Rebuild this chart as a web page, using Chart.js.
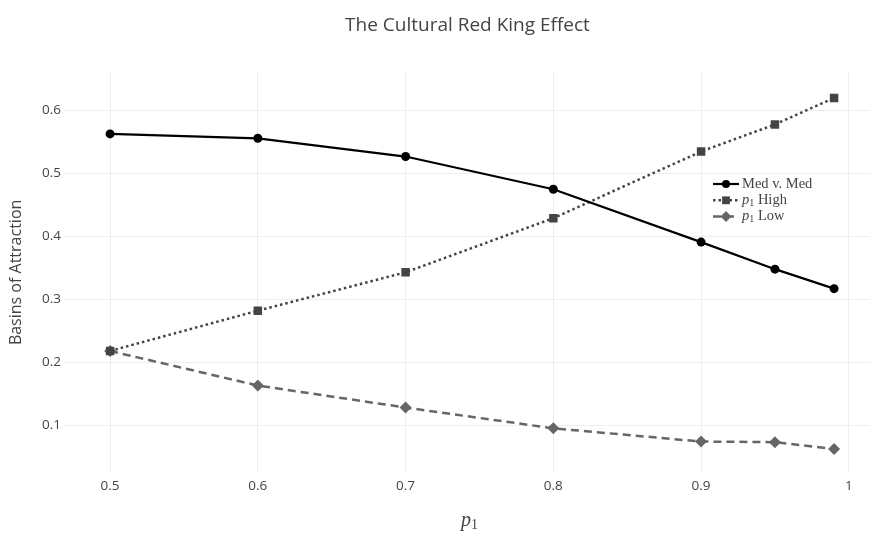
<!DOCTYPE html>
<html>
<head>
<meta charset="utf-8">
<script src="https://cdn.jsdelivr.net/npm/chart.js@4"></script>
<style>
  html, body { margin: 0; padding: 0; background: #fff; overflow: hidden; }
  /* a bit wider than the window: Chart.js keeps a small right margin for the last tick label */
  #wrap { width: 877px; height: 534px; }
</style>
</head>
<body>
<div id="wrap"><canvas id="chart"></canvas></div>
<script>
// data
const pValues = [0.5, 0.6, 0.7, 0.8, 0.9, 0.95, 0.99];
const medVMed = [0.563, 0.556, 0.527, 0.475, 0.391, 0.348, 0.317];
const p1High = [0.218, 0.282, 0.343, 0.429, 0.535, 0.578, 0.620];
const p1Low = [0.218, 0.163, 0.128, 0.095, 0.074, 0.073, 0.062];
const xTicks = [0.5, 0.6, 0.7, 0.8, 0.9, 1];
const yTicks = [0.1, 0.2, 0.3, 0.4, 0.5, 0.6];

const toPoints = (ys) => ys.map((y, i) => ({ x: pValues[i], y: y }));

// legend entries: label parts as [text, italic, subscript]
const legendLabels = [
  [['Med v. Med', false, false]],
  [['p', true, false], ['1', false, true], [' High', false, false]],
  [['p', true, false], ['1', false, true], [' Low', false, false]]
];

function drawParts(ctx, parts, x, y, size) {
  parts.forEach(([txt, it, sub]) => {
    const fs = sub ? Math.round(size * 0.72) : size;
    ctx.font = (it ? 'italic ' : '') + fs + 'px "Liberation Serif", serif';
    ctx.fillText(txt, x, sub ? y + size * 0.22 : y);
    x += ctx.measureText(txt).width;
  });
}

const extras = {
  id: 'extras',
  afterDraw(chart) {
    const ctx = chart.ctx;
    ctx.save();
    ctx.fillStyle = '#444';
    ctx.textBaseline = 'middle';
    ctx.textAlign = 'left';
    // x axis title p1
    drawParts(ctx, [['p', true, false], ['1', false, true]], 461, 521, 20);

    // legend
    chart.data.datasets.forEach((ds, i) => {
      const y = 184 + i * 16.3;
      ctx.save();
      ctx.strokeStyle = ds.borderColor;
      ctx.lineWidth = ds.borderWidth;
      ctx.setLineDash(ds.borderDash || []);
      ctx.beginPath();
      ctx.moveTo(713, y);
      ctx.lineTo(739, y);
      ctx.stroke();
      ctx.setLineDash([]);
      ctx.fillStyle = ds.pointBackgroundColor;
      ctx.strokeStyle = ds.pointBackgroundColor;
      Chart.helpers.drawPoint(ctx, {
        pointStyle: ds.pointStyle,
        radius: ds.pointRadius - 0.5,
        borderWidth: 0
      }, 726, y);
      ctx.restore();
      ctx.fillStyle = '#444';
      drawParts(ctx, legendLabels[i], 742, y, 14.5);
    });
    ctx.restore();
  }
};

new Chart(document.getElementById('chart'), {
  type: 'line',
  data: {
    datasets: [
      {
        label: 'Med v. Med',
        data: toPoints(medVMed),
        borderColor: '#000',
        backgroundColor: '#000',
        pointBackgroundColor: '#000',
        borderWidth: 2.2,
        pointStyle: 'circle',
        pointRadius: 4.5,
        pointBorderWidth: 0
      },
      {
        label: 'p1 High',
        data: toPoints(p1High),
        borderColor: '#444',
        backgroundColor: '#444',
        pointBackgroundColor: '#444',
        borderWidth: 2.5,
        borderDash: [2.5, 3],
        pointStyle: 'rect',
        pointRadius: 6,
        pointBorderWidth: 0
      },
      {
        label: 'p1 Low',
        data: toPoints(p1Low),
        borderColor: '#666',
        backgroundColor: '#666',
        pointBackgroundColor: '#666',
        borderWidth: 2.5,
        borderDash: [8, 5],
        pointStyle: 'rectRot',
        pointRadius: 6,
        pointBorderWidth: 0
      }
    ]
  },
  options: {
    responsive: true,
    maintainAspectRatio: false,
    animation: false,
    plugins: {
      legend: { display: false },
      tooltip: { enabled: false },
      title: {
        display: true,
        fullSize: false,
        text: 'The Cultural Red King Effect',
        color: '#444',
        font: { family: '"Open Sans", sans-serif', size: 19, weight: 'normal', lineHeight: 1.2 },
        padding: { top: 14, bottom: 35 }
      }
    },
    scales: {
      x: {
        type: 'linear',
        min: 0.4688,
        max: 1.015,
        afterBuildTicks: (s) => { s.ticks = xTicks.map(v => ({ value: v })); },
        afterFit: (s) => { s.height = 61; },
        border: { display: false },
        grid: { color: '#eee', drawTicks: false },
        ticks: {
          color: '#444',
          padding: 5,
          font: { family: '"Open Sans", sans-serif', size: 13.5 },
          callback: (v) => String(v)
        }
      },
      y: {
        min: 0.024,
        max: 0.6617,
        afterBuildTicks: (s) => { s.ticks = yTicks.map(v => ({ value: v })); },
        afterFit: (s) => { s.width = 64; },
        border: { display: false },
        grid: { color: '#eee', drawTicks: false },
        ticks: {
          color: '#444',
          padding: 3,
          font: { family: '"Open Sans", sans-serif', size: 13.5 },
          callback: (v) => String(v)
        },
        title: {
          display: true,
          text: 'Basins of Attraction',
          color: '#444',
          font: { family: '"Open Sans", sans-serif', size: 16 },
          padding: { top: 7, bottom: 0 }
        }
      }
    }
  },
  plugins: [extras]
});
</script>
</body>
</html>
